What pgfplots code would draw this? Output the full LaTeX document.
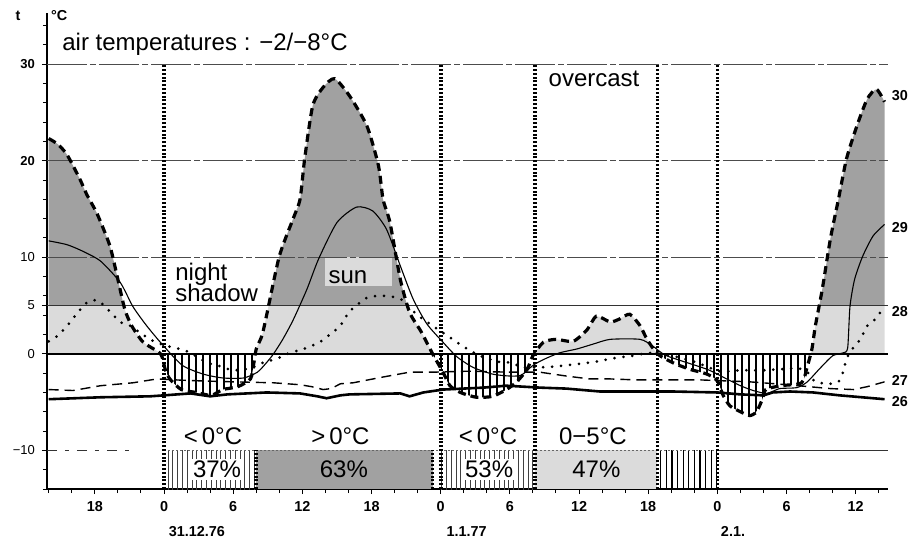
\documentclass[border=0pt]{standalone}
\usepackage{fontspec}
\setmainfont{Liberation Sans}
\usepackage{pgfplots}
\usepackage{pgfplotstable}
\pgfplotsset{compat=1.18}
\usetikzlibrary{patterns.meta}

\definecolor{darkshade}{gray}{0.63}
\definecolor{lightshade}{gray}{0.86}

\tikzset{
  sep/.style={line width=1.8pt, dash pattern=on 1pt off 0.9pt},
  gridl/.style={line width=0.4pt, black!70, dash pattern=on 20pt off 1.5pt on 3pt off 1.5pt},
  big/.style={font=\fontsize{12}{12}\selectfont},
  small/.style={font=\fontsize{7.2}{8}\selectfont\bfseries},
}

% hours from 0:00 on 31.12.76, temperature in degC
\pgfplotstableread{
x y
-10 22.3
-9.2 21.7
-8.4 20.6
-7.3 18.1
-6.7 16.5
-5.8 14.5
-4.7 11.2
-4.0 7.7
-3.4 4.6
-2.8 2.9
-1.8 1.2
-0.3 0.0
0.1 -1.6
0.5 -2.6
1.5 -3.7
2.8 -4.0
4.1 -4.3
5.1 -3.7
6.4 -3.4
7.5 -2.6
7.8 -0.9
8.0 0.5
8.5 1.9
8.9 4.0
10.0 10.1
11.2 14.0
11.8 16.0
12.2 20.2
12.9 25.7
13.8 27.6
14.8 28.5
16.1 26.7
17.6 23.6
18.6 19.5
19.0 16.0
19.6 13.6
20.5 7.7
21.3 4.3
22.3 2.3
23.3 0.0
24.2 -1.9
24.8 -3.3
25.7 -4.0
27.1 -4.5
28.5 -4.4
29.7 -3.7
30.6 -2.9
31.5 -1.6
32.0 -0.2
32.9 1.2
34.0 1.5
35.5 1.3
36.7 2.5
37.5 3.9
38.7 3.3
39.5 3.6
40.4 4.1
41.3 2.9
41.9 1.5
42.8 0.0
44.1 -0.9
45.6 -1.6
47.1 -2.1
48.0 -2.8
48.5 -4.3
49.1 -5.4
50.0 -6.0
50.8 -6.4
51.4 -6.0
51.9 -4.7
52.2 -3.7
53.5 -3.3
55.3 -3.0
55.8 -1.3
56.2 0.5
56.5 2.9
57.1 6.7
57.8 11.9
58.5 16.0
59.2 20.2
60.1 23.6
61.0 26.4
61.8 27.4
62.5 26.1
}\cThirty

\pgfplotstableread{
x y
-10 11.7
-8.4 11.3
-7.0 10.6
-5.5 9.6
-3.8 7.4
-2.7 4.9
-1.5 2.9
-0.1 0.9
1.6 -1.2
3.4 -2.1
5.1 -2.5
6.9 -2.5
8.1 -1.9
8.9 -0.9
9.5 0.0
10.3 1.5
11.2 3.5
12.4 6.7
13.4 9.8
15.0 13.6
16.7 15.2
18.1 14.8
19.3 12.9
20.5 9.1
21.6 5.7
22.8 3.1
24.2 1.2
25.4 -0.3
26.8 -1.4
28.5 -2.1
30.0 -2.3
31.0 -2.2
32.0 -1.2
32.9 -0.6
34.3 0.1
35.8 0.5
37.2 1.0
38.7 1.5
41.3 1.5
42.4 0.8
43.6 -0.2
47.1 -1.6
48.8 -2.6
50.0 -3.3
51.1 -3.8
52.3 -4.1
53.4 -3.6
54.9 -3.5
55.8 -2.9
56.9 -1.5
58.0 -0.2
58.9 0.1
59.3 0.6
59.5 4.9
59.9 7.7
60.6 10.1
61.5 12.2
62.5 13.4
}\cTwentyNine

\pgfplotstableread{
x y
-10 1.3
-9.3 1.8
-8.4 2.9
-7.6 4.1
-6.6 5.4
-5.7 5.5
-4.7 4.4
-3.8 3.3
-2.9 2.9
-2.1 2.2
-0.9 1.3
0.3 0.8
1.4 0.5
2.3 0.1
3.7 -0.9
4.9 -1.3
6.0 -1.7
7.5 -1.5
8.6 -0.9
9.8 -0.5
10.9 0.1
12.1 0.5
13.5 1.2
14.7 2.3
15.3 2.9
16.1 4.4
17.6 5.8
19.0 6.0
20.5 5.7
21.9 4.1
23.3 2.9
24.8 1.7
25.9 0.8
27.4 -0.2
28.9 -0.8
30.0 -0.9
31.2 -1.4
32.6 -1.4
34.0 -1.3
36.3 -1.0
37.5 -0.8
39.3 -0.4
40.7 -0.2
42.2 0.1
44.1 -0.2
46.2 -0.9
48.2 -1.8
50.0 -1.7
52.0 -1.7
54.9 -1.5
55.8 -1.9
56.5 -2.9
57.8 -3.1
58.5 -2.9
58.9 -1.9
59.2 -0.5
59.7 0.5
60.4 1.5
61.0 2.9
61.7 3.6
62.3 4.6
}\cTwentyEight

\pgfplotstableread{
x y
-10 -3.7
-7.9 -3.8
-5.5 -3.3
-2.7 -3.0
-0.6 -2.6
1.0 -2.7
3.1 -2.8
6.0 -2.9
9.5 -3.0
11.8 -3.2
12.8 -3.4
13.8 -3.7
14.5 -3.6
15.3 -3.1
16.4 -3.0
19.0 -2.4
21.3 -1.9
23.3 -1.9
26.3 -1.8
30.0 -1.9
32.6 -1.9
34.9 -2.3
36.9 -2.6
38.7 -2.6
41.0 -2.7
46.5 -2.7
50.8 -2.9
53.0 -3.1
55.0 -3.3
57.8 -3.6
59.8 -3.7
61.0 -3.4
62.5 -2.9
}\cTwentySeven

\pgfplotstableread{
x y
-10 -4.7
-5.5 -4.5
-1.2 -4.4
0.0 -4.3
2.3 -4.1
4.0 -4.4
5.5 -4.2
8.9 -4.0
11.8 -4.1
13.3 -4.4
14.1 -4.6
15.3 -4.3
16.1 -4.2
20.5 -4.1
21.3 -4.4
22.5 -4.0
24.2 -3.7
27.7 -3.5
29.7 -3.3
32.6 -3.5
34.9 -3.6
37.8 -3.9
41.0 -3.9
44.1 -3.9
48.0 -4.0
50.0 -4.2
52.0 -4.3
52.8 -4.0
54.3 -3.9
56.3 -4.0
58.6 -4.3
62.5 -4.7
}\cTwentySix

\begin{document}
\begin{tikzpicture}
\begin{axis}[
  scale only axis, width=420.5pt, height=238pt,
  xmin=-10.15, xmax=62.8, ymin=-14, ymax=35.3,
  axis x line=bottom, axis y line=left,
  axis line style={-, line width=0.8pt},
  xtick={-6,0,...,60},
  xticklabels={18,0,6,12,18,0,6,12,18,0,6,12},
  minor xtick={-10,-8,...,62},
  ytick={-10,0,5,10,20,30},
  yticklabels={−10,0,5,10,\textbf{20},\textbf{30}},
  minor ytick={-14,-12,...,34},
  tick align=outside, major tick length=2.5pt, minor tick length=2pt,
  tick style={black, line width=0.5pt},
  xticklabel style={font=\fontsize{7.2}{8}\selectfont\bfseries},
  yticklabel style={font=\fontsize{6.5}{7}\selectfont},
  no markers, clip=false,
]
% shaded areas between curve 30 and the 0 line
\begin{scope}
\clip (axis cs:-20,5) rectangle (axis cs:70,40);
\addplot[draw=none, fill=darkshade, smooth, tension=0.4] table {\cThirty} -- (axis cs:62.5,0) -- (axis cs:-10,0) -- cycle;
\end{scope}
\begin{scope}
\clip (axis cs:-20,0) rectangle (axis cs:70,5);
\addplot[draw=none, fill=lightshade, smooth, tension=0.4] table {\cThirty} -- (axis cs:62.5,0) -- (axis cs:-10,0) -- cycle;
\end{scope}
\begin{scope}
\clip (axis cs:-20,-20) rectangle (axis cs:70,0);
\addplot[draw=none, pattern={Lines[angle=90,distance=3.5pt,line width=0.6pt]}, smooth, tension=0.4] table {\cThirty} -- (axis cs:62.5,0) -- (axis cs:-10,0) -- cycle;
\end{scope}
\fill[lightshade] (axis cs:13.95,7.0) rectangle (axis cs:19.75,10.0);

% bars at the bottom
\addplot[draw=none, pattern={Lines[angle=90,distance=2.4pt,line width=0.35pt]}, pattern color=black!75] coordinates {(0,-14) (0,-10) (8,-10) (8,-14)};
\addplot[draw=none, fill=darkshade] coordinates {(8,-14) (8,-10) (23.3,-10) (23.3,-14)};
\addplot[draw=none, pattern={Lines[angle=90,distance=2.4pt,line width=0.35pt]}, pattern color=black!75] coordinates {(24,-14) (24,-10) (32.2,-10) (32.2,-14)};
\addplot[draw=none, fill=lightshade] coordinates {(32.2,-14) (32.2,-10) (42.8,-10) (42.8,-14)};
\addplot[draw=none, pattern={Lines[angle=90,distance=2.8pt,line width=0.6pt]}] coordinates {(42.8,-14) (42.8,-10) (48,-10) (48,-14)};

% grid lines
\addplot[gridl] coordinates {(-10.15,30) (62.8,30)};
\addplot[gridl] coordinates {(-10.15,20) (62.8,20)};
\addplot[gridl] coordinates {(-10.15,10) (62.8,10)};
\addplot[line width=0.4pt, black!80] coordinates {(-10.15,5) (62.8,5)};
\addplot[line width=0.7pt] coordinates {(-10.15,0) (62.8,0)};
\addplot[line width=0.4pt, black!80, dash pattern=on 5pt off 4pt on 2pt off 4pt] coordinates {(-10.15,-10) (-3,-10)};
\addplot[line width=0.4pt, black!80] coordinates {(48,-10) (62.8,-10)};
\addplot[line width=0.3pt, black!60, dash pattern=on 1pt off 1pt] coordinates {(0,-10) (48,-10)};

% the five curves
\addplot[line width=1.3pt] table {\cTwentySix};
\addplot[line width=0.7pt, dash pattern=on 5pt off 3pt] table {\cTwentySeven};
\addplot[line width=1.5pt, line cap=round, dash pattern=on 0pt off 4.5pt, smooth, tension=0.4] table {\cTwentyEight};
\addplot[line width=0.55pt, smooth, tension=0.4] table {\cTwentyNine};
\addplot[line width=1.6pt, dash pattern=on 4pt off 2.5pt, smooth, tension=0.4] table {\cThirty};

% separators
\addplot[sep] coordinates {(0,-14) (0,30)};
\addplot[sep] coordinates {(24,-14) (24,30)};
\addplot[sep] coordinates {(32.2,-14) (32.2,30)};
\addplot[sep] coordinates {(42.8,-14) (42.8,30)};
\addplot[sep] coordinates {(48,-14) (48,30)};
\addplot[sep] coordinates {(8,-14) (8,-10)};
\addplot[sep] coordinates {(23.3,-14) (23.3,-10)};

% texts
\node[big, anchor=west, inner sep=0pt] at (axis cs:-8.85,32.1) {air temperatures : −2/−8°C};
\node[big] at (axis cs:37.3,28.5) {overcast};
\node[big, anchor=west, align=left, inner sep=0pt] at (axis cs:0.95,7.4) {night\\[-1.2pt]shadow};
\node[big] at (axis cs:15.95,7.9) {sun};
\node[big] at (axis cs:4.25,-8.5) {<\,0°C};
\node[big] at (axis cs:15.3,-8.5) {>\,0°C};
\node[big] at (axis cs:28.1,-8.5) {<\,0°C};
\node[big] at (axis cs:37.2,-8.5) {0−5°C};
\node[big, fill=white, inner sep=1pt] at (axis cs:4.6,-12) {37\%};
\node[big] at (axis cs:15.6,-12) {63\%};
\node[big, fill=white, inner sep=1pt] at (axis cs:28.2,-12) {53\%};
\node[big] at (axis cs:37.5,-12) {47\%};

\node[small, anchor=west, inner sep=0pt] at (axis cs:63.1,26.7) {30};
\node[small, anchor=west, inner sep=0pt] at (axis cs:63.1,13.1) {29};
\node[small, anchor=west, inner sep=0pt] at (axis cs:63.1,4.4) {28};
\node[small, anchor=west, inner sep=0pt] at (axis cs:63.1,-2.8) {27};
\node[small, anchor=west, inner sep=0pt] at (axis cs:63.1,-4.9) {26};

\node[small] at (axis cs:-12.66,35.0) {t};
\node[small] at (axis cs:-9.1,35.0) {°C};

\node[small, anchor=west] at (axis cs:-0.2,-18.4) {31.12.76};
\node[small, anchor=west] at (axis cs:23.9,-18.4) {1.1.77};
\node[small, anchor=west] at (axis cs:47.7,-18.4) {2.1.};
\end{axis}
\pgfresetboundingbox
\path[use as bounding box] ([xshift=-23.5pt,yshift=-26pt]current axis.south west) rectangle ([xshift=12pt,yshift=6.5pt]current axis.north east);
\end{tikzpicture}
\end{document}
